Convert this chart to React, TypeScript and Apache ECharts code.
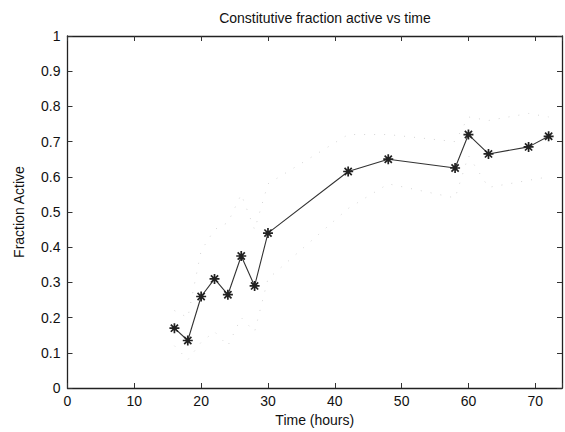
import React, { useEffect, useRef } from "react";
import * as echarts from "echarts";

const timeHours = [16, 18, 20, 22, 24, 26, 28, 30, 42, 48, 58, 60, 63, 69, 72];
const fractionActive = [0.17, 0.135, 0.26, 0.31, 0.265, 0.375, 0.29, 0.44, 0.615, 0.65, 0.625, 0.72, 0.665, 0.685, 0.715];
const upperBound = [0.22, 0.2, 0.39, 0.45, 0.47, 0.55, 0.45, 0.58, 0.72, 0.72, 0.7, 0.77, 0.76, 0.78, 0.77];
const lowerBound = [0.12, 0.08, 0.13, 0.16, 0.12, 0.2, 0.16, 0.31, 0.51, 0.58, 0.54, 0.66, 0.57, 0.59, 0.6];
const xTicks = [0, 10, 20, 30, 40, 50, 60, 70];

const FONT = "'Liberation Sans', Arial, Helvetica, sans-serif";
const STAR = "path://M0,-5L0,5M-5,0L5,0M-3.6,-3.6L3.6,3.6M-3.6,3.6L3.6,-3.6";

export default function App() {
  const ref = useRef<HTMLDivElement>(null);
  useEffect(() => {
    if (!ref.current) return;
    const chart = echarts.init(ref.current, null, { renderer: "svg" });
    const pairs = (ys: number[]) => timeHours.map((t, i) => [t, ys[i]]);
    const axisCommon = {
      type: "value" as const,
      axisLine: { show: true, onZero: false, lineStyle: { color: "#222", width: 1.3 } },
      axisTick: { show: true, inside: true, length: 5, lineStyle: { color: "#333" } },
      splitLine: { show: false },
    };
    chart.setOption({
      animation: false,
      backgroundColor: "#fff",
      title: {
        text: "Constitutive fraction active vs time",
        left: 320,
        textAlign: "center",
        top: 6,
        textStyle: { fontFamily: FONT, fontSize: 14, fontWeight: "normal", color: "#111" },
      },
      grid: { left: 67.5, top: 36, width: 499.5, height: 353 },
      xAxis: [
        {
          ...axisCommon,
          min: 0,
          max: 74,
          interval: 10,
          position: "bottom",
          name: "Time (hours)",
          nameLocation: "middle",
          nameGap: 25,
          nameTextStyle: { fontFamily: FONT, fontSize: 14, color: "#111" },
          axisLabel: {
            fontFamily: FONT,
            fontSize: 14,
            color: "#111",
            margin: 6,
            formatter: (v: number) => (xTicks.indexOf(v) >= 0 ? String(v) : ""),
          },
        },
        {
          ...axisCommon,
          min: 0,
          max: 74,
          interval: 10,
          position: "top",
          axisLabel: { show: false },
        },
      ],
      yAxis: [
        {
          ...axisCommon,
          min: 0,
          max: 1,
          interval: 0.1,
          position: "left",
          name: "Fraction Active",
          nameLocation: "middle",
          nameGap: 42,
          nameTextStyle: { fontFamily: FONT, fontSize: 14, color: "#111" },
          axisLabel: { fontFamily: FONT, fontSize: 14, color: "#111", margin: 7 },
        },
        {
          ...axisCommon,
          min: 0,
          max: 1,
          interval: 0.1,
          position: "right",
          axisLabel: { show: false },
        },
      ],
      series: [
        {
          type: "line",
          data: pairs(upperBound),
          showSymbol: false,
          lineStyle: { color: "#d4d4d4", width: 1, type: [1, 9] },
          silent: true,
        },
        {
          type: "line",
          data: pairs(lowerBound),
          showSymbol: false,
          lineStyle: { color: "#d4d4d4", width: 1, type: [1, 9] },
          silent: true,
        },
        {
          type: "line",
          data: pairs(fractionActive),
          symbol: STAR,
          symbolSize: 10,
          itemStyle: { color: "#222", borderColor: "#222", borderWidth: 1.7 },
          lineStyle: { color: "#333", width: 1.1 },
        },
      ],
    });
    return () => chart.dispose();
  }, []);
  return (
    <div
      ref={ref}
      style={{ position: "fixed", left: 0, top: 0, width: 565, height: 432, background: "#fff" }}
    />
  );
}
